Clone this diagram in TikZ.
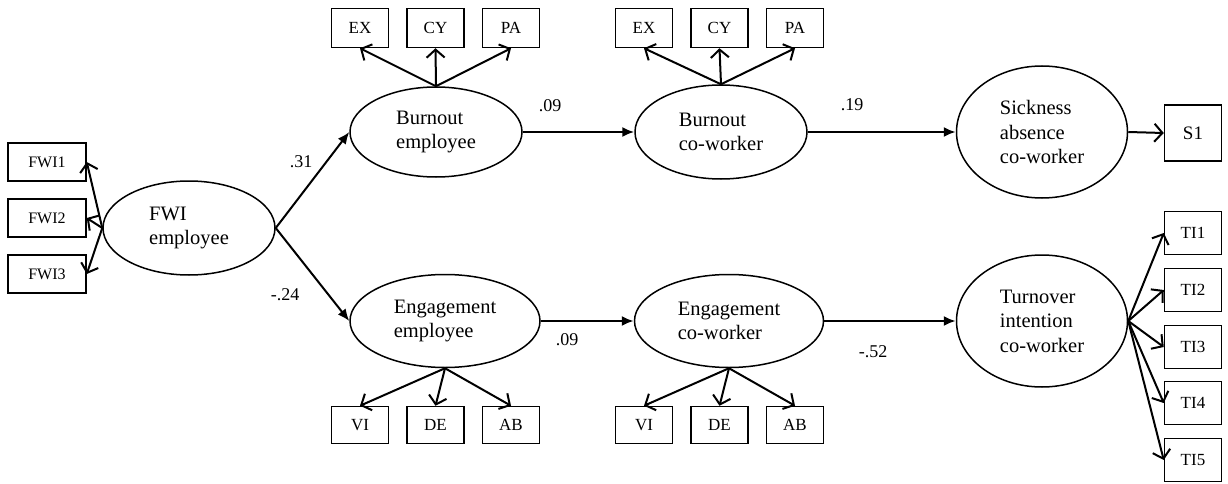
\documentclass[tikz,border=0pt]{standalone}
\usepackage{fontspec}
\setmainfont{Liberation Serif}
\usetikzlibrary{arrows.meta,shapes.geometric}

\tikzset{
    latent/.style={draw, ellipse, line width=1.5pt, inner sep=0pt, align=left,
        font=\fontsize{20.5}{24.5}\selectfont},
    obs/.style={draw, rectangle, line width=1.5pt, inner sep=0pt,
        font=\fontsize{17}{20}\selectfont},
    path/.style={line width=2pt, -{Latex[length=12pt,width=10pt]}},
    load/.style={line width=2pt, -{Straight Barb[length=8pt,width=18pt,line width=2pt]}},
    coef/.style={font=\fontsize{18}{20}\selectfont}
}

\begin{document}
\begin{tikzpicture}[x=1pt, y=-1pt]
        \useasboundingbox (0,0) rectangle (1228,484);

        % latent variables
        \node[latent, minimum width=172, minimum height=94] (fwi) at (189,228) {FWI\\employee};
        \node[latent, minimum width=172, minimum height=90] (be) at (436,132) {Burnout\\employee};
        \node[latent, minimum width=172, minimum height=94] (bc) at (721,132) {Burnout\\co-worker};
        \node[latent, minimum width=171, minimum height=132] (sa) at (1042,132) {Sickness\\absence\\co-worker};
        \node[latent, minimum width=190, minimum height=93] (ee) at (445,321) {Engagement\\employee};
        \node[latent, minimum width=189, minimum height=93] (ec) at (729,321) {Engagement\\co-worker};
        \node[latent, minimum width=171, minimum height=132] (to) at (1042,321) {Turnover\\intention\\co-worker};

        % indicators
        \foreach \n/\y in {1/162, 2/218, 3/274} {
            \node[obs, font=\fontsize{16}{19}\selectfont, minimum width=78, minimum height=38] (fwi\n) at (47,\y) {FWI\n};
            \draw[load] (fwi.west) -- (fwi\n.east);
        }
        \foreach \t/\x in {EX/0, CY/1, PA/2} {
            \node[obs, minimum width=57, minimum height=39] (be\t) at (360+75.5*\x,28) {\t};
            \draw[load] (be.north) -- (be\t.south);
            \node[obs, minimum width=57, minimum height=39] (bc\t) at (644+75.5*\x,28) {\t};
            \draw[load] (bc.north) -- (bc\t.south);
        }
        \foreach \t/\x in {VI/0, DE/1, AB/2} {
            \node[obs, minimum width=57, minimum height=37] (ee\t) at (360+75.5*\x,425) {\t};
            \draw[load] (ee.south) -- (ee\t.north);
            \node[obs, minimum width=57, minimum height=37] (ec\t) at (644+75.5*\x,425) {\t};
            \draw[load] (ec.south) -- (ec\t.north);
        }
        \node[obs, font=\fontsize{19}{22}\selectfont, minimum width=57, minimum height=56] (s1) at (1193,133) {S1};
        \draw[load] (sa.east) -- (s1.west);
        \foreach \n/\y in {1/233, 2/290, 3/347, 4/403, 5/460} {
            \node[obs, minimum width=57, minimum height=43] (ti\n) at (1193,\y) {TI\n};
            \draw[load] (to.east) -- (ti\n.west);
        }

        % structural paths
        \draw[path] (fwi.east) -- (be.west);
        \draw[path] (fwi.east) -- (ee.west);
        \draw[path] (be.east) -- (bc.west);
        \draw[path] (bc.east) -- (sa.west);
        \draw[path] (ee.east) -- (ec.west);
        \draw[path] (ec.east) -- (to.west);

        \node[coef] (c1) at (301,162) {.31};
        \node[coef] (c2) at (285,295) {-.24};
        \node[coef] (c3) at (550,106) {.09};
        \node[coef] (c4) at (852,105) {.19};
        \node[coef] (c5) at (567,340) {.09};
        \node[coef] (c6) at (873,352) {-.52};
    \end{tikzpicture}
\end{document}
